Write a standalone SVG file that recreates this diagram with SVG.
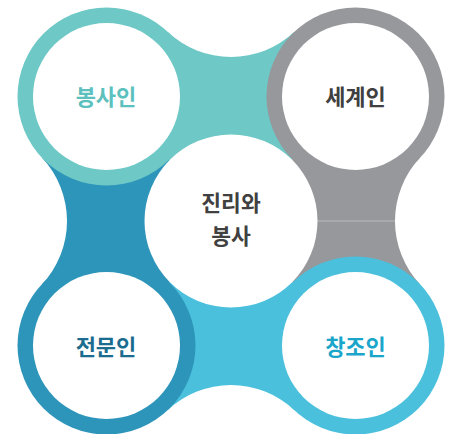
<svg xmlns="http://www.w3.org/2000/svg" width="457" height="434" viewBox="0 0 457 434">
  <style>
    .lbl { font-family: "Noto Sans CJK KR", "Noto Sans", sans-serif; font-size: 22px; font-weight: 700; text-anchor: middle; }
    .ctr { font-family: "Noto Sans CJK KR", "Noto Sans", sans-serif; font-size: 21.5px; font-weight: 700; text-anchor: middle; fill: #404040; }
    .hole { fill: #ffffff; }
  </style>
  <rect width="457" height="434" fill="#ffffff"/>
  <g id="connectors">
    <path id="band-top" d="M106.5,96.5 L167.6,31.8 A92.3,92.3 0 0 0 294.4,31.8 L355.5,96.5 L231,221 Z" fill="#6dc8c6"/>
    <path id="band-right" d="M355.5,96.5 L420.2,157.6 A92.3,92.3 0 0 0 420.2,284.4 L355.5,345.5 L231,221 Z" fill="#97989c"/>
    <path id="band-bottom" d="M355.5,345.5 L294.4,410.2 A92.3,92.3 0 0 0 167.6,410.2 L106.5,345.5 L231,221 Z" fill="#4ac0dc"/>
    <path id="band-left" d="M106.5,345.5 L41.8,284.4 A92.3,92.3 0 0 0 41.8,157.6 L106.5,96.5 L231,221 Z" fill="#2e95ba"/>
    <line x1="317" y1="221" x2="395" y2="221" stroke="#b9babd" stroke-width="1"/>
  </g>
  <g id="center">
    <circle cx="231" cy="221" r="86.5" class="hole"/>
    <text class="ctr" x="231" y="211">진리와</text>
    <text class="ctr" x="231" y="244">봉사</text>
  </g>
  <g id="node-bongsain">
    <circle cx="106.5" cy="96.5" r="89" fill="#6dc8c6"/>
    <circle cx="106.5" cy="96.5" r="73.5" class="hole"/>
    <text class="lbl" x="106" y="104.5" fill="#5cc0be">봉사인</text>
  </g>
  <g id="node-segyein">
    <circle cx="355.5" cy="96.5" r="89" fill="#97989c"/>
    <circle cx="355.5" cy="96.5" r="73.5" class="hole"/>
    <text class="lbl" x="355.5" y="104.5" fill="#404040">세계인</text>
  </g>
  <g id="node-jeonmunin">
    <circle cx="106.5" cy="345.5" r="89" fill="#2e95ba"/>
    <circle cx="106.5" cy="345.5" r="73.5" class="hole"/>
    <text class="lbl" x="106" y="354.5" fill="#1b6d90">전문인</text>
  </g>
  <g id="node-changjoin">
    <circle cx="355.5" cy="345.5" r="89" fill="#4ac0dc"/>
    <circle cx="355.5" cy="345.5" r="73.5" class="hole"/>
    <text class="lbl" x="355.5" y="354.5" fill="#1aa6cb">창조인</text>
  </g>
</svg>
